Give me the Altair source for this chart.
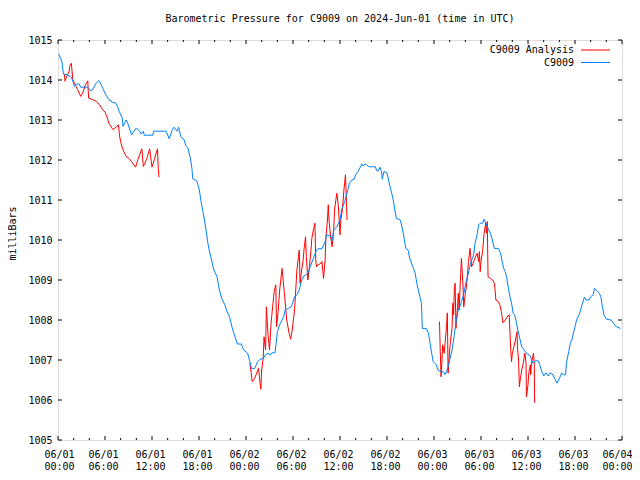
import altair as alt
import pandas as pd

FONT = "DejaVu Sans Mono"
BASE = pd.Timestamp("2024-06-01 00:00:00")

series_names = ["C9009 Analysis", "C9009"]
series_colors = ["#ff0000", "#0080ff"]

# C9009 station observations (hours after 2024-06-01 00:00 UTC, milliBars)
station_hours = [
    0.1, 0.3, 0.5, 0.7, 1.2, 1.7, 1.9, 2.1, 2.4, 2.7, 2.9, 3.8, 4.2, 4.4, 4.8, 5.2, 5.3, 5.7,
    6.1, 6.5, 7.0, 7.4, 7.6, 7.8, 8.2, 8.3, 8.5, 8.7, 8.9, 9.1, 9.4, 9.7, 10.0, 10.4, 10.6,
    10.9, 11.0, 12.1, 12.2, 13.8, 14.2, 14.6, 14.8, 15.2, 15.4, 15.7, 16.1, 16.3, 16.6, 16.9,
    17.1, 17.2, 17.7, 18.0, 18.1, 18.3, 18.5, 18.7, 18.9, 19.1, 19.3, 19.6, 19.9, 20.3, 20.6,
    20.9, 21.3, 21.5, 21.9, 22.2, 22.6, 22.9, 23.4, 23.7, 24.2, 24.5, 24.7, 25.1, 25.5, 25.8,
    26.2, 26.5, 26.8, 27.1, 27.3, 27.7, 27.9, 28.0, 28.3, 28.8, 29.0, 29.4, 29.8, 30.2, 30.5,
    30.8, 31.1, 31.4, 31.9, 32.2, 32.6, 33.0, 33.2, 33.7, 34.1, 34.3, 34.9, 35.0, 35.2, 35.6,
    36.0, 36.2, 36.6, 36.9, 37.2, 37.5, 37.8, 38.0, 38.3, 38.8, 39.0, 39.2, 39.4, 39.7, 40.5,
    40.7, 40.9, 41.1, 41.3, 41.4, 41.6, 42.0, 42.2, 42.4, 42.6, 42.8, 43.0, 43.2, 43.7, 44.0,
    44.2, 44.4, 44.7, 44.9, 45.3, 45.6, 45.8, 46.0, 46.2, 46.4, 46.5, 47.0, 47.3, 47.5, 47.7,
    47.9, 48.3, 48.5, 48.8, 49.2, 49.4, 49.6, 49.8, 50.0, 50.3, 50.5, 50.7, 50.9, 51.1, 51.3,
    51.5, 51.7, 51.9, 52.1, 52.4, 52.6, 52.9, 53.1, 53.2, 53.5, 53.7, 53.9, 54.2, 54.4, 54.6,
    54.8, 55.2, 55.4, 55.7, 56.2, 56.5, 56.7, 56.9, 57.1, 57.3, 57.5, 57.7, 57.9, 58.1, 58.3,
    58.5, 58.7, 59.0, 59.2, 59.5, 59.8, 60.3, 60.6, 60.9, 61.3, 61.5, 61.7, 62.0, 62.3, 62.6,
    62.8, 63.2, 63.4, 63.7, 63.9, 64.1, 64.3, 64.5, 64.8, 64.9, 65.2, 65.4, 65.6, 65.8, 66.0,
    66.2, 66.6, 66.9, 67.2, 67.4, 67.8, 68.0, 68.3, 68.5, 68.7, 69.1, 69.3, 69.5, 69.7, 70.0,
    70.6, 70.9, 71.3, 71.8,
]
station_mbar = [
    1014.65, 1014.55, 1014.45, 1014.15, 1014.13, 1014.07, 1013.97, 1013.84, 1013.90, 1013.90,
    1013.82, 1013.82, 1013.73, 1013.75, 1013.90, 1013.99, 1013.97, 1013.80, 1013.63, 1013.51,
    1013.44, 1013.42, 1013.34, 1013.22, 1013.05, 1012.84, 1012.92, 1013.00, 1012.92, 1012.80,
    1012.63, 1012.72, 1012.80, 1012.72, 1012.65, 1012.72, 1012.62, 1012.62, 1012.72, 1012.72,
    1012.53, 1012.76, 1012.82, 1012.72, 1012.82, 1012.57, 1012.51, 1012.37, 1012.29, 1012.04,
    1011.79, 1011.53, 1011.48, 1011.29, 1011.17, 1010.92, 1010.71, 1010.50, 1010.25, 1009.96,
    1009.75, 1009.50, 1009.25, 1009.08, 1008.75, 1008.54, 1008.38, 1008.25, 1008.08, 1007.83,
    1007.58, 1007.40, 1007.40, 1007.25, 1007.17, 1006.96, 1006.79, 1006.79, 1006.96, 1007.02,
    1007.04, 1007.13, 1007.17, 1007.13, 1007.18, 1007.18, 1007.50, 1007.71, 1007.88, 1008.08,
    1008.25, 1008.29, 1008.33, 1008.58, 1008.63, 1008.75, 1009.00, 1009.10, 1009.17, 1009.33,
    1009.54, 1009.75, 1009.78, 1009.78, 1009.96, 1010.13, 1010.08, 1009.98, 1010.25, 1010.33,
    1010.50, 1010.75, 1010.96, 1011.17, 1011.42, 1011.50, 1011.52, 1011.63, 1011.71, 1011.90,
    1011.85, 1011.90, 1011.88, 1011.83, 1011.83, 1011.73, 1011.73, 1011.82, 1011.71, 1011.52,
    1011.71, 1011.68, 1011.50, 1011.32, 1011.17, 1011.00, 1010.75, 1010.54, 1010.50, 1010.25,
    1010.04, 1009.79, 1009.75, 1009.54, 1009.33, 1009.17, 1008.92, 1008.75, 1008.58, 1008.42,
    1007.79, 1007.79, 1007.67, 1007.42, 1007.17, 1006.96, 1006.88, 1006.75, 1006.71, 1006.71,
    1006.63, 1006.71, 1006.83, 1007.00, 1007.25, 1007.50, 1007.79, 1008.04, 1008.25, 1008.33,
    1008.46, 1008.58, 1008.75, 1008.96, 1009.17, 1009.38, 1009.54, 1009.67, 1009.88, 1010.13,
    1010.38, 1010.42, 1010.42, 1010.52, 1010.43, 1010.33, 1010.17, 1010.04, 1009.79, 1009.79,
    1009.67, 1009.46, 1009.29, 1009.21, 1009.04, 1008.79, 1008.58, 1008.42, 1008.17, 1008.13,
    1007.96, 1007.75, 1007.50, 1007.33, 1007.25, 1007.17, 1007.10, 1006.92, 1006.98, 1006.98,
    1006.88, 1006.75, 1006.60, 1006.68, 1006.60, 1006.68, 1006.63, 1006.54, 1006.42, 1006.50,
    1006.58, 1006.68, 1006.63, 1006.63, 1006.92, 1007.21, 1007.42, 1007.50, 1007.67, 1007.83,
    1008.00, 1008.17, 1008.38, 1008.57, 1008.50, 1008.50, 1008.58, 1008.63, 1008.79, 1008.75,
    1008.67, 1008.58, 1008.33, 1008.13, 1008.02, 1008.00, 1007.92, 1007.83, 1007.79,
]

# C9009 Analysis, three separate runs
analysis1_hours = [
    0.8, 0.9, 1.1, 1.4, 1.5, 1.7, 1.8, 1.9, 2.1, 2.3, 2.5, 2.9, 3.2, 3.5, 3.8, 3.9, 4.4, 4.9,
    5.3, 5.7, 6.0, 6.3, 6.5, 7.0, 7.4, 7.7, 7.9, 8.2, 8.5, 8.7, 9.1, 9.5, 9.9, 10.2, 10.7,
    10.9, 11.3, 11.7, 12.0, 12.3, 12.7, 12.8, 12.9,
]
analysis1_mbar = [
    1014.15, 1013.97, 1014.09, 1014.20, 1014.34, 1014.42, 1014.20, 1014.01, 1013.93, 1013.84,
    1013.76, 1013.59, 1013.70, 1013.88, 1013.98, 1013.55, 1013.51, 1013.47, 1013.38, 1013.26,
    1013.20, 1013.05, 1012.92, 1012.76, 1012.82, 1012.88, 1012.55, 1012.30, 1012.17, 1012.09,
    1012.03, 1011.93, 1011.82, 1012.01, 1012.28, 1011.84, 1012.01, 1012.28, 1011.82, 1012.01,
    1012.28, 1011.78, 1011.57,
]
analysis2_hours = [
    24.5, 24.8, 25.1, 25.6, 25.8, 25.9, 26.0, 26.2, 26.3, 26.5, 26.6, 26.8, 27.0, 27.2, 27.4,
    27.6, 27.8, 27.9, 28.1, 28.3, 28.6, 28.9, 29.2, 29.5, 29.7, 29.9, 30.2, 30.4, 30.5, 30.7,
    30.8, 30.9, 31.1, 31.3, 31.4, 31.6, 31.7, 31.9, 32.1, 32.3, 32.4, 32.6, 32.8, 32.9, 33.0,
    33.2, 33.6, 33.7, 33.9, 34.1, 34.2, 34.4, 34.5, 34.6, 34.8, 35.0, 35.2, 35.3, 35.5, 35.6,
    35.8, 36.0, 36.1, 36.3, 36.5, 36.7, 36.8, 36.9,
]
analysis2_mbar = [
    1006.92, 1006.46, 1006.54, 1006.79, 1006.42, 1006.27, 1006.75, 1007.04, 1007.58, 1007.25,
    1008.33, 1007.67, 1007.25, 1007.92, 1008.33, 1008.71, 1008.88, 1007.83, 1008.21, 1008.75,
    1009.29, 1008.67, 1008.00, 1007.67, 1007.52, 1007.75, 1008.25, 1008.92, 1009.25, 1009.58,
    1009.75, 1008.92, 1009.25, 1009.50, 1009.75, 1010.08, 1009.58, 1009.00, 1009.33, 1009.75,
    1010.04, 1010.25, 1010.42, 1009.50, 1009.33, 1009.38, 1009.42, 1009.46, 1009.04, 1009.50,
    1010.08, 1010.50, 1010.88, 1010.50, 1010.08, 1009.83, 1010.25, 1010.75, 1011.04, 1011.17,
    1010.83, 1010.13, 1010.50, 1010.75, 1011.25, 1011.63, 1011.08, 1010.50,
]
analysis3_hours = [
    48.7, 48.8, 48.9, 49.0, 49.1, 49.3, 49.6, 49.7, 49.8, 50.0, 50.1, 50.3, 50.4, 50.5, 50.6,
    50.7, 50.8, 51.0, 51.1, 51.2, 51.4, 51.5, 51.7, 51.8, 52.0, 52.1, 52.2, 52.4, 52.6, 52.8,
    53.0, 53.2, 53.5, 53.7, 53.8, 53.9, 54.0, 54.2, 54.4, 54.6, 54.7, 54.8, 54.9, 55.2, 55.5,
    55.7, 55.8, 55.9, 56.2, 56.4, 56.6, 56.8, 57.1, 57.3, 57.6, 57.7, 57.8, 57.9, 58.0, 58.2,
    58.4, 58.6, 58.65, 58.8, 58.9, 59.0, 59.2, 59.4, 59.6, 59.75, 59.8, 60.0, 60.1, 60.3,
    60.35, 60.4, 60.6, 60.7, 60.8, 60.82, 60.85,
]
analysis3_mbar = [
    1007.96, 1007.21, 1006.58, 1006.92, 1007.38, 1007.17, 1007.83, 1008.18, 1006.67, 1007.25,
    1007.46, 1007.79, 1008.42, 1008.13, 1008.75, 1008.92, 1007.79, 1008.33, 1008.67, 1008.25,
    1009.13, 1009.54, 1008.88, 1008.33, 1008.67, 1008.79, 1008.96, 1009.46, 1009.79, 1009.33,
    1009.42, 1009.54, 1009.67, 1009.46, 1009.71, 1009.21, 1009.46, 1009.71, 1010.17, 1010.42,
    1010.17, 1010.46, 1009.08, 1009.04, 1009.00, 1008.92, 1008.75, 1008.50, 1008.46, 1008.38,
    1008.21, 1007.93, 1008.00, 1008.07, 1008.13, 1007.67, 1007.25, 1006.96, 1007.17, 1007.33,
    1007.50, 1007.71, 1007.33, 1007.00, 1006.33, 1006.50, 1006.75, 1006.92, 1007.17, 1006.92,
    1006.08, 1006.38, 1006.67, 1006.88, 1006.63, 1006.83, 1007.08, 1007.17, 1006.92, 1006.54,
    1005.93,
]

x_label_hours = list(range(0, 73, 6))
x_minor_hours = [h for h in range(0, 73, 2) if h % 6]
y_tick_values = list(range(1005, 1016))


def ts(h):
    return (BASE + pd.Timedelta(hours=h)).strftime("%Y-%m-%dT%H:%M:%SZ")


def dt(h):
    h = int(h)
    return alt.DateTime(year=2024, month=6, date=1 + h // 24, hours=h % 24, utc=True)


station_df = pd.DataFrame({
    "t": [ts(h) for h in station_hours],
    "p": station_mbar,
    "series": series_names[1],
    "seg": "s",
})
analysis_parts = []
for i, (hs, vs) in enumerate([(analysis1_hours, analysis1_mbar),
                              (analysis2_hours, analysis2_mbar),
                              (analysis3_hours, analysis3_mbar)]):
    analysis_parts.append(pd.DataFrame({
        "t": [ts(h) for h in hs], "p": vs, "series": series_names[0], "seg": f"a{i}",
    }))
analysis_df = pd.concat(analysis_parts, ignore_index=True)

major_df = pd.DataFrame({"t": [ts(h) for h in x_label_hours]})
minor_df = pd.DataFrame({"t": [ts(h) for h in x_minor_hours]})
ytick_df = pd.DataFrame({"p": y_tick_values})
legend_df = pd.DataFrame({"series": series_names})

W, H = 564, 400

x_scale = alt.Scale(type="utc", domain=[dt(0), dt(72)], nice=False)
y_scale = alt.Scale(domain=[1005, 1015], nice=False, zero=False)
color_scale = alt.Scale(domain=series_names, range=series_colors)

x_axis = alt.Axis(
    values=[dt(h) for h in x_label_hours],
    labelExpr="[utcFormat(datum.value, '%m/%d'), utcFormat(datum.value, '%H:%M')]",
    title=None, domain=False, ticks=False, grid=False,
    labelFont=FONT, labelFontSize=10, labelColor="black",
    labelPadding=9, labelLineHeight=12, labelBaseline="top", labelAngle=0,
    labelOverlap=False, labelFlush=True, labelFlushOffset=12, labelOffset=-2,
)
y_axis = alt.Axis(
    values=y_tick_values, format="d", title="milliBars",
    domain=False, ticks=False, grid=False,
    labelFont=FONT, labelFontSize=10, labelColor="black", labelPadding=6,
    labelOverlap=False, labelFlush=False,
    titleFont=FONT, titleFontSize=10, titleFontWeight="normal", titleColor="black",
    titlePadding=10, titleY=193,
)

X = alt.X("t:T", scale=x_scale, axis=x_axis)
Y = alt.Y("p:Q", scale=y_scale, axis=y_axis)

red_line = alt.Chart(analysis_df).mark_line(strokeWidth=1).encode(
    x=X, y=Y,
    color=alt.Color("series:N", scale=color_scale, legend=None),
    detail="seg:N",
)
blue_line = alt.Chart(station_df).mark_line(strokeWidth=1).encode(
    x=X, y=Y,
    color=alt.Color("series:N", scale=color_scale, legend=None),
)

MAJ, MIN = 4, 2
tick_layers = [
    alt.Chart(major_df).mark_rule(color="black").encode(x=X, y=alt.value(H), y2=alt.value(H - MAJ)),
    alt.Chart(major_df).mark_rule(color="black").encode(x=X, y=alt.value(0), y2=alt.value(MAJ)),
    alt.Chart(minor_df).mark_rule(color="black").encode(x=X, y=alt.value(H), y2=alt.value(H - MIN)),
    alt.Chart(minor_df).mark_rule(color="black").encode(x=X, y=alt.value(0), y2=alt.value(MIN)),
    alt.Chart(ytick_df).mark_rule(color="black").encode(y=Y, x=alt.value(0), x2=alt.value(MAJ)),
    alt.Chart(ytick_df).mark_rule(color="black").encode(y=Y, x=alt.value(W), x2=alt.value(W - MAJ)),
]

main = alt.layer(red_line, blue_line, *tick_layers)

legend_y = alt.Y("series:N", scale=alt.Scale(type="point", domain=series_names,
                                            range=[10, 22.5], padding=0), axis=None)
legend_text = alt.Chart(legend_df).mark_text(
    align="right", baseline="middle", font=FONT, fontSize=10, color="black"
).encode(y=legend_y, text="series:N", x=alt.value(516))
legend_rule = alt.Chart(legend_df).mark_rule(strokeWidth=1).encode(
    y=legend_y, x=alt.value(523), x2=alt.value(552),
    color=alt.Color("series:N", scale=color_scale, legend=None),
)
legend = alt.layer(legend_text, legend_rule)

chart = alt.layer(main, legend).resolve_scale(y="independent").properties(
    width=W, height=H,
    title=alt.TitleParams(
        "Barometric Pressure for C9009 on 2024-Jun-01 (time in UTC)",
        font=FONT, fontSize=10, fontWeight="normal", color="black",
        anchor="middle", offset=11,
    ),
    autosize=alt.AutoSizeParams(type="none"),
    padding={"left": 50, "top": 32, "right": 10, "bottom": 32},
).configure_view(stroke="black", strokeWidth=1).configure(background="white")

chart.save("out.html", embed_options={"renderer": "svg", "actions": False})
